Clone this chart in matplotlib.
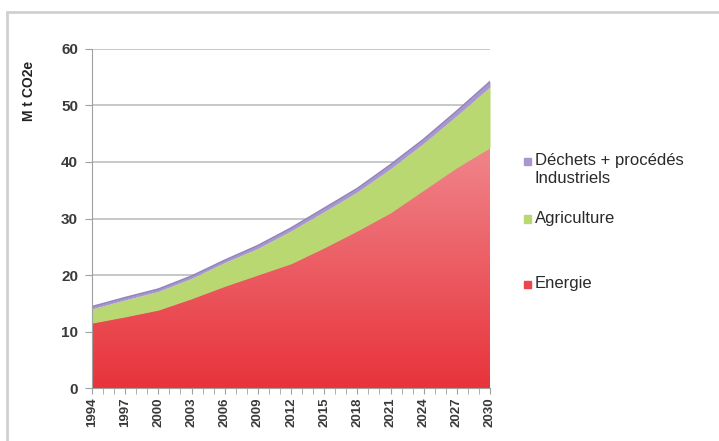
import matplotlib
matplotlib.use("Agg")
import matplotlib.pyplot as plt
import numpy as np
from matplotlib.patches import Rectangle
from matplotlib.colors import LinearSegmentedColormap

# valeurs (Mt CO2e)
annees = [1994, 1997, 2000, 2003, 2006, 2009, 2012, 2015, 2018, 2021, 2024, 2027, 2030]
energie = [11.5, 12.6, 13.8, 15.8, 18.0, 20.0, 22.0, 24.8, 27.8, 31.0, 35.0, 39.0, 42.5]
agriculture = [2.5, 3.0, 3.3, 3.6, 4.2, 4.7, 5.8, 6.4, 6.9, 7.8, 8.3, 9.2, 10.8]
dechets = [0.4, 0.4, 0.4, 0.4, 0.4, 0.5, 0.5, 0.6, 0.6, 0.7, 0.7, 0.8, 0.9]
labels = ["Energie", "Agriculture", "Déchets + procédés\nIndustriels"]

plt.rcParams['font.family'] = ['Liberation Sans', 'DejaVu Sans']

x = np.array(annees)
e = np.array(energie)
a = e + np.array(agriculture)
t = a + np.array(dechets)

fig = plt.figure(figsize=(7.19, 4.41), dpi=100)
ax = fig.add_axes([0.128, 0.120, 0.5535, 0.769])

# cadre gris autour du graphique
fig.patches.append(Rectangle((0.010, -0.05), 1.2, 1.023, transform=fig.transFigure,
                             fill=False, edgecolor="#d0d0d0", linewidth=2.0, zorder=0))

ax.set_yticks(range(0, 61, 10))
ax.yaxis.grid(True, color="#c4c4c4", linewidth=1.3, zorder=0)
ax.set_axisbelow(True)

# energie avec degrade
poly = ax.fill_between(x, 0, e, color="none", zorder=2)
grad = np.linspace(0, 1, 256).reshape(-1, 1)
cmap = LinearSegmentedColormap.from_list("rouge", ["#e8333b", "#f0868c"])
img = ax.imshow(grad, cmap=cmap, aspect="auto", origin="lower",
                extent=[1994, 2030, 0, 43], zorder=2)
img.set_clip_path(poly.get_paths()[0], transform=ax.transData)

ax.fill_between(x, e, a, color="#b9d871", linewidth=0, zorder=3)
ax.fill_between(x, a, t, color="#a897cf", linewidth=0, zorder=3)
ax.plot(x, t, color="#9484bd", linewidth=1.3, zorder=4)

ax.set_xlim(1994, 2030)
ax.set_ylim(0, 60)

for s in ["top", "right"]:
    ax.spines[s].set_visible(False)
ax.spines["left"].set_color("#a0a0a0")
ax.spines["bottom"].set_color("#a0a0a0")
ax.spines["left"].set_zorder(5)
ax.spines["bottom"].set_zorder(5)

ax.set_xticks(annees)
ax.set_xticks(range(1994, 2031), minor=True)
ax.set_xticklabels([str(y) for y in annees], rotation=90, fontsize=9.5,
                   fontweight="bold", color="#3a3a3a")
ax.tick_params(axis="x", which="both", length=4, color="#a0a0a0", pad=3)
ax.tick_params(axis="y", length=5, color="#a0a0a0", labelsize=11, labelcolor="#3a3a3a", pad=5)
for lab in ax.get_yticklabels():
    lab.set_fontweight("bold")

ax.set_ylabel("M t CO2e", fontsize=10, fontweight="bold", color="#222222")
ax.yaxis.set_label_coords(-0.14, 0.875)

# legende
couleurs = ["#e9464d", "#b9d871", "#a897cf"]
pos_y = [284, 219, 161]
for lab, c, py in zip(labels, couleurs, pos_y):
    yf = 1 - py / 441
    fig.patches.append(Rectangle((524 / 719, yf - 3.5 / 441), 7 / 719, 7 / 441,
                                 transform=fig.transFigure, color=c))
    fig.text(535 / 719, yf + 8 / 441, lab, fontsize=12, va="top", ha="left",
             color="#2a2a2a", linespacing=1.25)

fig.savefig("out.png", dpi=100)
